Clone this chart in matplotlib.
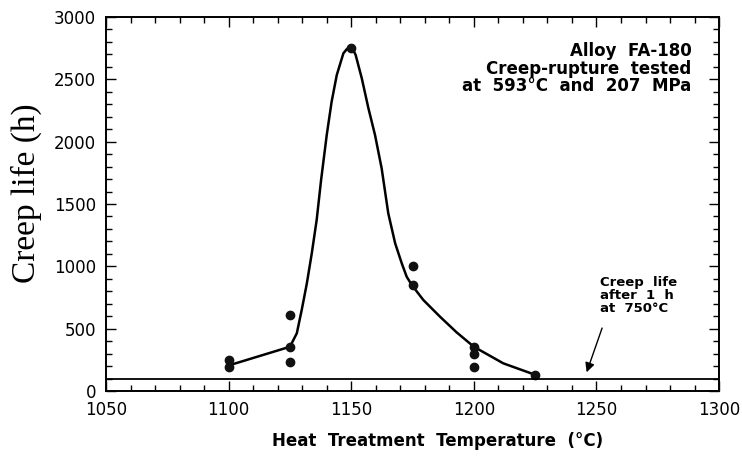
import numpy as np
import matplotlib.pyplot as plt
from matplotlib.ticker import MultipleLocator

# measured creep lives (h)
temp_pts = [1100, 1100, 1125, 1125, 1125, 1150, 1175, 1175, 1200, 1200, 1200, 1225]
life_pts = [245, 195, 610, 355, 235, 2750, 1000, 850, 355, 297, 195, 130]

# hand-drawn trend curve
curve_t = [1100, 1125, 1127.8, 1129.8, 1131.9, 1133.9, 1135.9, 1137.7, 1140.0,
           1142.0, 1144.1, 1146.8, 1148.3, 1149.6, 1150.8, 1151.8, 1154.3, 1157.0,
           1159.7, 1162.4, 1165.1, 1167.9, 1170.6, 1172.6, 1174.7, 1179.4, 1186.2,
           1193, 1200, 1212, 1225]
curve_v = [205, 355, 463, 650, 864, 1104, 1372, 1692, 2053,
           2321, 2535, 2709, 2745, 2752, 2738, 2695, 2508, 2268,
           2053, 1786, 1425, 1185, 1024, 917, 850, 730, 596,
           470, 355, 222, 130]

ref_life = 100  # creep life after 1 h at 750 C

plt.rcParams['font.family'] = ['DejaVu Sans']

fig = plt.figure(figsize=(7.42, 4.57), dpi=100)
ax = fig.add_axes([0.1429, 0.1444, 0.8262, 0.8184])

ax.plot(curve_t, curve_v, color='black', lw=1.8, solid_joinstyle='round')
ax.plot(temp_pts, life_pts, 'o', color='#111111', ms=6)
ax.axhline(ref_life, color='black', lw=1.3)

ax.set_xlim(1050, 1300)
ax.set_ylim(0, 3000)
ax.xaxis.set_major_locator(MultipleLocator(50))
ax.xaxis.set_minor_locator(MultipleLocator(10))
ax.yaxis.set_major_locator(MultipleLocator(500))
ax.yaxis.set_minor_locator(MultipleLocator(100))
ax.tick_params(which='both', direction='in', top=True, right=True, width=1)
ax.tick_params(which='major', length=7, labelsize=12, pad=7)
ax.tick_params(which='minor', length=4)
for s in ax.spines.values():
    s.set_linewidth(1.4)

ax.set_ylabel('Creep life (h)', family='Liberation Serif', fontsize=24)
ax.yaxis.set_label_coords(-0.105, 0.53)
ax.set_xlabel('Heat  Treatment  Temperature  (°C)', fontsize=12, fontweight='bold')
ax.xaxis.set_label_coords(0.54, -0.11)

ax.text(0.955, 0.932, 'Alloy  FA-180\nCreep-rupture  tested\nat  593°C  and  207  MPa',
        transform=ax.transAxes, ha='right', va='top', fontsize=12,
        fontweight='bold', linespacing=0.95)

ax.text(1251.5, 925, 'Creep  life\nafter  1  h\nat  750°C', fontsize=9.5,
        fontweight='bold', ha='left', va='top', linespacing=1.0)
ax.annotate('', xy=(1246, 150), xytext=(1252.3, 505),
            arrowprops=dict(arrowstyle='-|>', color='black', lw=1.0,
                            shrinkA=0, shrinkB=0, mutation_scale=14))

fig.savefig('out.png', dpi=100)
